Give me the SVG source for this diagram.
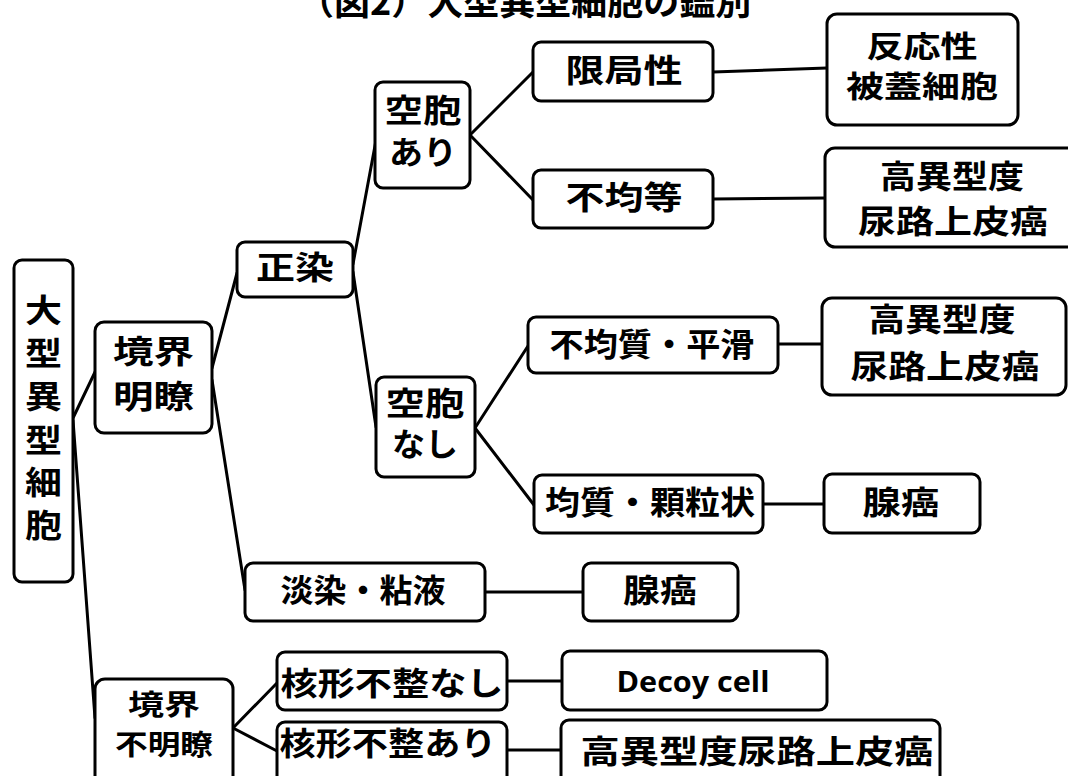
<svg xmlns="http://www.w3.org/2000/svg" width="1068" height="776" viewBox="0 0 1068 776">
<style>
.b{fill:#fff;stroke:#000;stroke-width:3}
.t{font-family:"Noto Sans CJK JP","Noto Sans CJK SC",sans-serif;font-weight:bold;font-size:32px;fill:#000;text-anchor:middle}
.s{font-size:30px}
.u{font-size:28px}
.e{font-family:"Open Sans",Lato,sans-serif;font-weight:bold;font-size:28px;fill:#000;text-anchor:middle}
.c line{stroke:#000;stroke-width:3;stroke-linecap:round}
</style>
<rect width="1068" height="776" fill="#fff"/>
<text id="title" x="298" y="15" style="font-family:'Noto Sans CJK JP',sans-serif;font-weight:bold;font-size:36px">（図2）大型異型細胞の鑑別</text>
<g class="c" id="connectors">
<line x1="73" y1="418" x2="96" y2="370"/>
<line x1="73" y1="420" x2="95" y2="718"/>
<line x1="212" y1="368" x2="237" y2="273"/>
<line x1="212" y1="380" x2="245" y2="590"/>
<line x1="353" y1="264" x2="377" y2="135"/>
<line x1="353" y1="272" x2="376" y2="427"/>
<line x1="470" y1="135" x2="533" y2="72"/>
<line x1="470" y1="135" x2="533" y2="200"/>
<line x1="475" y1="428" x2="528" y2="346"/>
<line x1="475" y1="428" x2="534" y2="505"/>
<line x1="713" y1="72" x2="827" y2="68"/>
<line x1="713" y1="199" x2="825" y2="198"/>
<line x1="778" y1="344" x2="822" y2="344"/>
<line x1="763" y1="504" x2="824" y2="504"/>
<line x1="485" y1="592" x2="583" y2="592"/>
<line x1="233" y1="728" x2="277" y2="683"/>
<line x1="233" y1="728" x2="277" y2="751"/>
<line x1="507" y1="681" x2="562" y2="681"/>
<line x1="507" y1="750" x2="561" y2="750"/>
</g>
<g id="n1"><rect class="b" x="14" y="260" width="59" height="322" rx="8"/>
<text class="t" x="43.5" y="322" textLength="37" lengthAdjust="spacingAndGlyphs">大</text>
<text class="t" x="43.5" y="365" textLength="37" lengthAdjust="spacingAndGlyphs">型</text>
<text class="t" x="43.5" y="408" textLength="37" lengthAdjust="spacingAndGlyphs">異</text>
<text class="t" x="43.5" y="452" textLength="37" lengthAdjust="spacingAndGlyphs">型</text>
<text class="t" x="43.5" y="494" textLength="37" lengthAdjust="spacingAndGlyphs">細</text>
<text class="t" x="43.5" y="537" textLength="37" lengthAdjust="spacingAndGlyphs">胞</text></g>
<g id="n2"><rect class="b" x="95" y="322" width="117" height="111" rx="9"/>
<text class="t" x="153.5" y="363" textLength="81" lengthAdjust="spacingAndGlyphs">境界</text>
<text class="t" x="153.5" y="408" textLength="81" lengthAdjust="spacingAndGlyphs">明瞭</text></g>
<g id="n3"><rect class="b" x="237" y="242" width="116" height="55" rx="8"/>
<text class="t" x="295" y="279" textLength="78" lengthAdjust="spacingAndGlyphs">正染</text></g>
<g id="n4"><rect class="b" x="245" y="563" width="240" height="58" rx="8"/>
<text class="t" x="363" y="602" textLength="165" lengthAdjust="spacingAndGlyphs">淡染・粘液</text></g>
<g id="n5"><rect class="b" x="583" y="563" width="155" height="58" rx="8"/>
<text class="t" x="660" y="602" textLength="74" lengthAdjust="spacingAndGlyphs">腺癌</text></g>
<g id="n6"><rect class="b" x="375" y="82" width="95" height="106" rx="8"/>
<text class="t" x="423" y="122" textLength="77" lengthAdjust="spacingAndGlyphs">空胞</text>
<text class="t" x="423" y="164" textLength="68" lengthAdjust="spacingAndGlyphs">あり</text></g>
<g id="n7"><rect class="b" x="376" y="377" width="99" height="100" rx="8"/>
<text class="t" x="425" y="415" textLength="79" lengthAdjust="spacingAndGlyphs">空胞</text>
<text class="t" x="425" y="456" textLength="66" lengthAdjust="spacingAndGlyphs">なし</text></g>
<g id="n8"><rect class="b" x="533" y="42" width="180" height="59" rx="8"/>
<text class="t" x="624" y="82" textLength="117" lengthAdjust="spacingAndGlyphs">限局性</text></g>
<g id="n9"><rect class="b" x="533" y="170" width="180" height="58" rx="8"/>
<text class="t" x="624" y="209" textLength="117" lengthAdjust="spacingAndGlyphs">不均等</text></g>
<g id="n10"><rect class="b" x="827" y="14" width="191" height="111" rx="10"/>
<text class="t s" x="922" y="57" textLength="111" lengthAdjust="spacingAndGlyphs">反応性</text>
<text class="t s" x="922" y="97" textLength="152" lengthAdjust="spacingAndGlyphs">被蓋細胞</text></g>
<g id="n11"><rect class="b" x="825" y="148" width="258" height="99" rx="10"/>
<text class="t" x="952" y="188" textLength="144" lengthAdjust="spacingAndGlyphs">高異型度</text>
<text class="t" x="953" y="233" textLength="190" lengthAdjust="spacingAndGlyphs">尿路上皮癌</text></g>
<g id="n12"><rect class="b" x="528" y="317" width="250" height="56" rx="8"/>
<text class="t" x="652" y="356" textLength="205" lengthAdjust="spacingAndGlyphs">不均質・平滑</text></g>
<g id="n13"><rect class="b" x="822" y="298" width="244" height="97" rx="10"/>
<text class="t" x="942" y="331" textLength="147" lengthAdjust="spacingAndGlyphs">高異型度</text>
<text class="t" x="945" y="378" textLength="189" lengthAdjust="spacingAndGlyphs">尿路上皮癌</text></g>
<g id="n14"><rect class="b" x="534" y="475" width="229" height="58" rx="8"/>
<text class="t" x="650" y="514" textLength="210" lengthAdjust="spacingAndGlyphs">均質・顆粒状</text></g>
<g id="n15"><rect class="b" x="824" y="474" width="156" height="59" rx="8"/>
<text class="t" x="901" y="514" textLength="77" lengthAdjust="spacingAndGlyphs">腺癌</text></g>
<g id="n16"><rect class="b" x="95" y="679" width="138" height="115" rx="10"/>
<text class="t u" x="164" y="715" textLength="72" lengthAdjust="spacingAndGlyphs">境界</text>
<text class="t u" x="164" y="755" textLength="98" lengthAdjust="spacingAndGlyphs">不明瞭</text></g>
<g id="n17"><rect class="b" x="277" y="652" width="230" height="58" rx="8"/>
<text class="t" x="392" y="695" textLength="223" lengthAdjust="spacingAndGlyphs">核形不整なし</text></g>
<g id="n18"><rect class="b" x="277" y="722" width="230" height="70" rx="8"/>
<text class="t" x="388" y="755" textLength="217" lengthAdjust="spacingAndGlyphs">核形不整あり</text></g>
<g id="n19"><rect class="b" x="562" y="651" width="265" height="59" rx="8"/>
<text class="e" x="693" y="692" textLength="153" lengthAdjust="spacingAndGlyphs">Decoy cell</text></g>
<g id="n20"><rect class="b" x="561" y="720" width="379" height="72" rx="8"/>
<text class="t" x="757" y="763" textLength="353" lengthAdjust="spacingAndGlyphs">高異型度尿路上皮癌</text></g>
</svg>
